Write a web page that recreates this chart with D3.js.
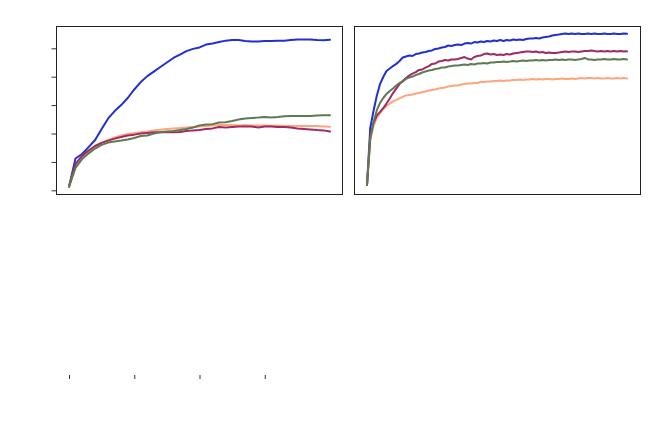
<!DOCTYPE html>
<html>
<head>
<meta charset="utf-8">
<script src="https://cdn.jsdelivr.net/npm/d3@7"></script>
<style>
  body { margin: 0; background: #fff; }
  .frame { fill: none; stroke: #222; stroke-width: 1; }
  .line { fill: none; stroke-width: 2; stroke-linejoin: round; stroke-linecap: round; }
  .axis path { display: none; }
  .axis line { stroke: #333; }
</style>
</head>
<body>
<div id="chart"></div>
<script>
// left panel: x steps 0..200 by 5
var leftSteps = d3.range(0, 201, 5);
var leftBlue = [0.13, 1.12, 1.28, 1.52, 1.77, 2.16, 2.53, 2.79, 3.0, 3.25, 3.55, 3.81, 4.02, 4.18, 4.34, 4.50, 4.66, 4.78, 4.90, 4.98, 5.03,
  5.13, 5.17, 5.22, 5.27, 5.29, 5.29, 5.26, 5.24, 5.24, 5.26, 5.26, 5.27, 5.27, 5.29, 5.31, 5.31, 5.31, 5.29, 5.28, 5.30];
var leftOrange = [0.13, 0.86, 1.17, 1.38, 1.56, 1.68, 1.77, 1.86, 1.93, 1.98, 2.02, 2.04, 2.07, 2.11, 2.13, 2.16, 2.18, 2.19, 2.21, 2.23, 2.25,
  2.26, 2.28, 2.30, 2.30, 2.30, 2.28, 2.30, 2.28, 2.28, 2.28, 2.27, 2.28, 2.26, 2.26, 2.26, 2.27, 2.26, 2.26, 2.25, 2.24];
var leftRed = [0.13, 0.93, 1.21, 1.40, 1.56, 1.67, 1.75, 1.82, 1.88, 1.93, 1.96, 2.00, 2.02, 2.04, 2.04, 2.04, 2.04, 2.05, 2.09, 2.11, 2.12,
  2.16, 2.18, 2.23, 2.21, 2.23, 2.25, 2.25, 2.25, 2.21, 2.25, 2.25, 2.23, 2.23, 2.21, 2.18, 2.16, 2.14, 2.12, 2.11, 2.07];
var leftGreen = [0.13, 0.79, 1.10, 1.30, 1.47, 1.60, 1.68, 1.72, 1.75, 1.79, 1.84, 1.91, 1.93, 2.00, 2.04, 2.07, 2.09, 2.12, 2.16, 2.21, 2.28,
  2.32, 2.33, 2.39, 2.40, 2.44, 2.49, 2.53, 2.55, 2.56, 2.58, 2.56, 2.58, 2.61, 2.62, 2.62, 2.62, 2.62, 2.63, 2.64, 2.64];
var leftYTicks = [0, 1, 2, 3, 4, 5];
var bottomTicks = [0, 50, 100, 150];

// right panel: x steps 0..80
var rightSteps = d3.range(0, 81);
var rightBlue = [0, 38, 49.3, 59.3, 67.3, 72, 76, 77.7, 79.3, 80.7, 82.7, 85, 85.7, 86.3, 86, 87.3, 87.7, 88.3, 88.7, 89.3,
  89.7, 90.7, 91, 91.7, 92, 93, 92.7, 93.3, 93.7, 93.3, 94.3, 94.7, 94.3, 95.3, 95, 95.7, 95.3, 96, 95.7, 96.3,
  96, 96.7, 96, 96.7, 96.3, 97, 96.7, 97, 96.7, 97.3, 97.7, 97.7, 98, 97.7, 98.3, 98.7, 99, 99.7, 100, 100.3,
  100.7, 101, 100.7, 101, 100.7, 101, 100.7, 100.7, 101, 100.7, 101, 100.7, 100.7, 101, 100.7, 100.7, 101, 100.7, 100.7, 101, 100.8];
var rightRed = [0, 32.7, 41.3, 46.3, 48.7, 51.3, 54.3, 57.7, 61.3, 64.3, 67.3, 69.3, 71.3, 73, 74.3, 75.3, 76.7, 77, 78.3, 79.3,
  80.7, 81, 82.3, 82.7, 83.3, 83, 83.7, 83.7, 84, 84.7, 85.3, 84.3, 83.7, 85.3, 86, 86.3, 87.3, 87.7, 87, 87.3,
  86.7, 87, 86.7, 87.3, 87, 87.7, 88, 88.3, 88.7, 89, 89, 88.7, 89, 88.3, 88.7, 88, 88.3, 88, 88, 88.3,
  88.7, 89, 88.7, 89, 89, 88.7, 89, 89.3, 89.3, 89.7, 89.3, 89, 89.3, 89, 89.3, 89, 89.3, 89, 89.3, 89, 89.1];
var rightGreen = [0, 30.7, 42, 49.7, 54.7, 58, 60.7, 62.7, 64.3, 66.3, 68, 69, 70.7, 71.7, 72.3, 73.3, 74, 75, 75.7, 76.3,
  76.7, 77.3, 77.7, 78.3, 78.3, 79, 79.3, 79.7, 79.7, 80, 80.3, 80, 80.7, 80.3, 81, 81, 81.3, 81, 81.7, 81.7,
  82, 82, 82.3, 82, 82.3, 82.7, 82.3, 82.7, 83, 82.7, 83, 83, 83.3, 83, 83.3, 83, 83.3, 83.3, 83.7, 83.3,
  83.7, 83.3, 83.7, 83.7, 83.3, 83.7, 84, 84.7, 83.7, 83.7, 83.3, 83.7, 83.7, 84, 83.7, 83.7, 84, 83.7, 83.7, 84, 83.7];
var rightOrange = [0, 30, 39.3, 44.7, 47.7, 50.7, 52.7, 54.3, 55.7, 56.7, 57.7, 58.7, 59.7, 60, 60.3, 61, 61.3, 62, 62.3, 63,
  63.3, 63.7, 64.3, 64.7, 65, 65.7, 66, 66.3, 66.3, 67, 67.3, 67.7, 67.7, 68, 68, 68.7, 68.7, 69, 69, 69.3,
  69.3, 69.7, 69.3, 69.7, 69.7, 70, 70, 70.3, 70, 70.3, 70.3, 70.7, 70.3, 70.7, 70.3, 70.7, 70.7, 70.3, 70.7, 70.7,
  71, 70.7, 70.7, 71, 70.7, 71, 71.3, 71, 71.3, 71.3, 71, 71.3, 71, 71, 71.3, 71, 71, 71.3, 71, 71.3, 71];

var colors = { blue: "#2030d4", orange: "#ffa47c", red: "#a02a62", green: "#5e7a52" };

var width = 654, height = 427;
var svg = d3.select("#chart").append("svg")
    .attr("width", width)
    .attr("height", height);

function drawLines(g, steps, seriesList, x, y) {
  var line = d3.line()
      .x(function(d, i) { return x(steps[i]); })
      .y(function(d) { return y(d); });
  seriesList.forEach(function(s) {
    g.append("path")
        .attr("class", "line")
        .attr("stroke", s.color)
        .attr("d", line(s.values));
  });
}

// left panel
var xLeft = d3.scaleLinear().domain([0, 200]).range([69, 330]);
var yLeft = d3.scaleLinear().domain([0, 5]).range([190.3, 48.3]);

svg.append("rect").attr("class", "frame")
    .attr("x", 56.5).attr("y", 26.5).attr("width", 286).attr("height", 168);

svg.append("g")
    .attr("class", "y axis")
    .attr("transform", "translate(56.5,0)")
    .call(d3.axisLeft(yLeft).tickValues(leftYTicks).tickSize(5).tickFormat(""));

drawLines(svg.append("g"), leftSteps, [
  { values: leftBlue, color: colors.blue },
  { values: leftOrange, color: colors.orange },
  { values: leftRed, color: colors.red },
  { values: leftGreen, color: colors.green }
], xLeft, yLeft);

// stray ticks below
svg.append("g")
    .attr("class", "x axis")
    .attr("transform", "translate(0,375)")
    .call(d3.axisBottom(xLeft).tickValues(bottomTicks).tickSize(4).tickFormat(""));

// right panel
var xRight = d3.scaleLinear().domain([0, 80]).range([367, 627]);
var yRight = d3.scaleLinear().domain([0, 100]).range([185, 35]);

svg.append("rect").attr("class", "frame")
    .attr("x", 354.5).attr("y", 26.5).attr("width", 286).attr("height", 168);

drawLines(svg.append("g"), rightSteps, [
  { values: rightBlue, color: colors.blue },
  { values: rightOrange, color: colors.orange },
  { values: rightRed, color: colors.red },
  { values: rightGreen, color: colors.green }
], xRight, yRight);
</script>
</body>
</html>
